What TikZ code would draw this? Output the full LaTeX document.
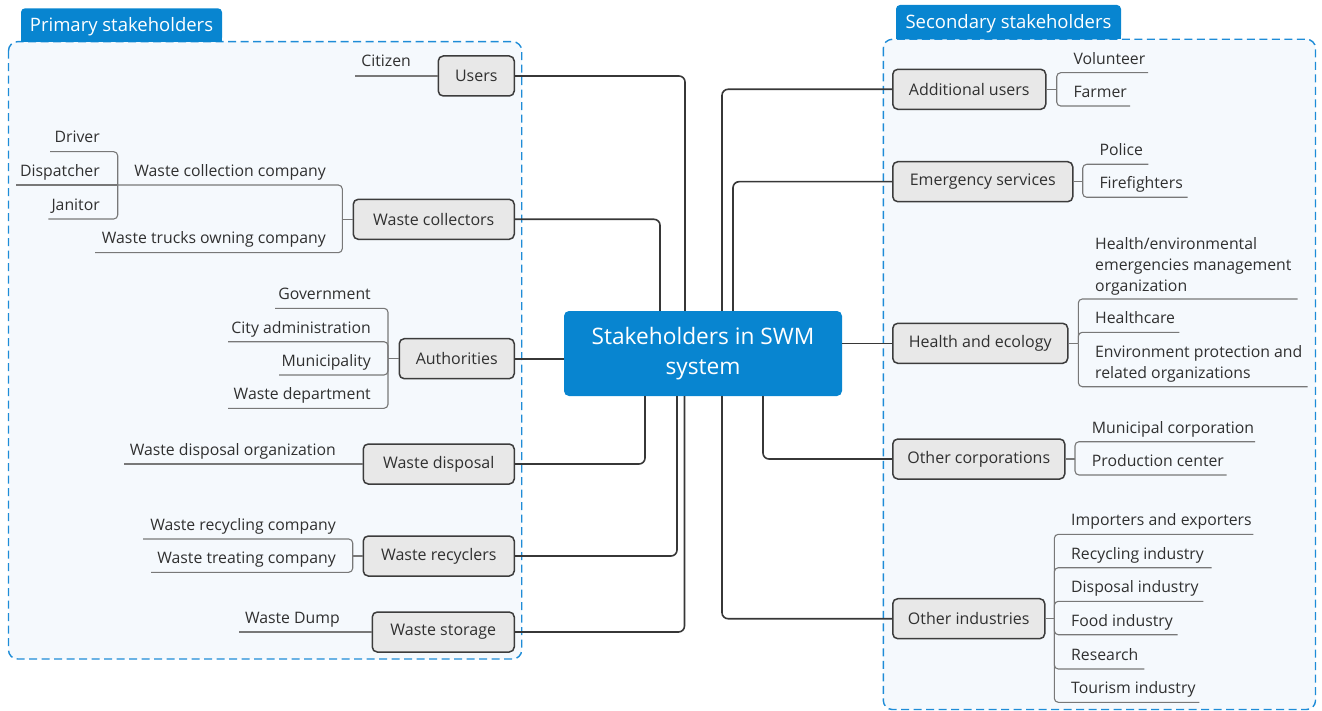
\documentclass[tikz,border=0pt]{standalone}
\usepackage{fontspec}
\setmainfont{Open Sans}
\definecolor{hubblue}{RGB}{8,133,208}
\definecolor{dashc}{RGB}{30,140,215}
\definecolor{panel}{RGB}{245,249,253}
\definecolor{boxfill}{RGB}{232,232,232}
\definecolor{boxline}{RGB}{60,60,60}
\definecolor{connc}{RGB}{55,55,55}
\definecolor{subc}{RGB}{120,120,120}
\definecolor{txt}{RGB}{48,48,48}
\newcommand\leaffont{\fontsize{15.8}{20.7}\selectfont}
\newcommand\catfont{\fontsize{16}{19}\selectfont}
\newcommand\hubfont{\fontsize{22.7}{30}\selectfont}
\newcommand\tabfont{\fontsize{18.5}{22}\selectfont}
\tikzset{
  cat/.style={draw=boxline, fill=boxfill, line width=1.5pt, rounded corners=5pt,
    minimum height=40pt, inner sep=0pt, font=\catfont, text=txt},
  leaf/.style={inner sep=0pt, font=\leaffont, text=txt},
  conn/.style={draw=connc, line width=1.6pt, rounded corners=6pt},
  sub/.style={draw=subc, line width=1.1pt, rounded corners=4pt},
  dashbox/.style={draw=dashc, dash pattern=on 8pt off 4.5pt, line width=1.4pt,
    fill=panel, rounded corners=9pt},
  tabtext/.style={inner sep=0pt, font=\tabfont, text=white},
  hub/.style={fill=hubblue, rounded corners=5pt, minimum width=278pt,
    minimum height=85pt, align=center, text=white, font=\hubfont, inner sep=0pt}
}
\begin{document}
\begin{tikzpicture}[x=1pt,y=-1pt]
\useasboundingbox (0,0) rectangle (1322,711);
% panels
\path[dashbox] (8.5,41.7) rectangle (521.7,659);
\path[dashbox] (883.3,39.3) rectangle (1315.5,709.5);
% tabs
\fill[hubblue, rounded corners=4pt] (21,8.3) rectangle (222,41.7);
\fill[hubblue] (21,30) rectangle (222,41.7);
\node[tabtext, anchor=base] (ptab) at (121.5,31.7) {Primary stakeholders};
\fill[hubblue, rounded corners=4pt] (896,5) rectangle (1121,39.3);
\fill[hubblue] (896,28) rectangle (1121,39.3);
\node[tabtext, anchor=base] (stab) at (1008.5,28.3) {Secondary stakeholders};
% hub
\node[hub] (hub) at (703,353.5) {Stakeholders in SWM\\system};
% left categories
\node[cat, anchor=east, minimum width=76pt] (users) at (515,76) {Users};
\node[cat, anchor=east, minimum width=161pt] (collectors) at (515,219.3) {Waste collectors};
\node[cat, anchor=east, minimum width=115pt] (authorities) at (515,358.7) {Authorities};
\node[cat, anchor=east, minimum width=151pt] (disposal) at (515,464) {Waste disposal};
\node[cat, anchor=east, minimum width=151pt] (recyclers) at (515,556) {Waste recyclers};
\node[cat, anchor=east, minimum width=142pt] (storage) at (515,632) {Waste storage};
% right categories
\node[cat, anchor=west, minimum width=153pt] (addusers) at (892,89.3) {Additional users};
\node[cat, anchor=west, minimum width=180pt] (emergency) at (892,181.7) {Emergency services};
\node[cat, anchor=west, minimum width=175pt] (health) at (892,343.3) {Health and ecology};
\node[cat, anchor=west, minimum width=172pt] (corporations) at (892,459) {Other corporations};
\node[cat, anchor=west, minimum width=152pt] (industries) at (892,618.7) {Other industries};
% hub connectors
\draw[conn] (users.east) -| ([xshift=-18pt]hub.north);
\draw[conn] (collectors.east) -| ([xshift=-43pt]hub.north);
\draw[conn] (authorities.east) -- (authorities.east -| hub.west);
\draw[conn] (disposal.east) -| ([xshift=-58pt]hub.south);
\draw[conn] (recyclers.east) -| ([xshift=-26pt]hub.south);
\draw[conn] (storage.east) -| ([xshift=-18.5pt]hub.south);
\draw[conn] (addusers.west) -| ([xshift=19pt]hub.north);
\draw[conn] (emergency.west) -| ([xshift=30pt]hub.north);
\draw[conn] (health.west) -- (health.west -| hub.east);
\draw[conn] (corporations.west) -| ([xshift=60pt]hub.south);
\draw[conn] (industries.west) -| ([xshift=19pt]hub.south);
% ---- left leaves ----
\coordinate (citizenU) at (355,76);
\draw[sub] (users.west) -- (citizenU);
\node[leaf, anchor=base east] (citizen) at (411,67) {Citizen};
% collectors
\coordinate (colB) at (342.3,219.3);
\coordinate (wccU) at (117.7,185);
\coordinate (wtocU) at (95,252.7);
\draw[sub] (collectors.west) -- (colB);
\draw[sub] (colB) |- (wccU);
\draw[sub] (colB) |- (wtocU);
\coordinate (driverU) at (50,151.7);
\coordinate (dispU) at (16,185);
\coordinate (janU) at (48.3,219);
\draw[sub] (wccU) |- (driverU);
\draw[sub] (wccU) -- (dispU);
\draw[sub] (wccU) |- (janU);
\node[leaf, anchor=base east] (wcc) at (326,176.5) {Waste collection company};
\node[leaf, anchor=base east] (wtoc) at (326,244) {Waste trucks owning company};
\node[leaf, anchor=base east] (driver) at (100,142.7) {Driver};
\node[leaf, anchor=base east] (dispatcher) at (100,176.5) {Dispatcher};
\node[leaf, anchor=base east] (janitor) at (100,210.3) {Janitor};
% authorities
\coordinate (autB) at (388,358.7);
\draw[sub] (authorities.west) -- (autB);
\coordinate (govU) at (275,308.3);
\coordinate (cityU) at (228,341.7);
\coordinate (muniU) at (279,375);
\coordinate (wdepU) at (228,408.3);
\draw[sub] (autB) |- (govU);
\draw[sub] (autB) |- (cityU);
\draw[sub] (autB) |- (muniU);
\draw[sub] (autB) |- (wdepU);
\node[leaf, anchor=base east] (gov) at (371,299.6) {Government};
\node[leaf, anchor=base east] (city) at (371,333) {City administration};
\node[leaf, anchor=base east] (muni) at (371,366.3) {Municipality};
\node[leaf, anchor=base east] (wdep) at (371,399.6) {Waste department};
% disposal
\coordinate (wdoU) at (124,464);
\draw[sub] (disposal.west) -- (wdoU);
\node[leaf, anchor=base east] (wdo) at (336,455) {Waste disposal organization};
% recyclers
\coordinate (recB) at (352.7,556);
\coordinate (wrcU) at (143,539);
\coordinate (wtcU) at (151,572.3);
\draw[sub] (recyclers.west) -- (recB);
\draw[sub] (recB) |- (wrcU);
\draw[sub] (recB) |- (wtcU);
\node[leaf, anchor=base east] (wrc) at (336,530.3) {Waste recycling company};
\node[leaf, anchor=base east] (wtc) at (336,563.6) {Waste treating company};
% storage
\coordinate (dumpU) at (239,632);
\draw[sub] (storage.west) -- (dumpU);
\node[leaf, anchor=base east] (dump) at (340,623.3) {Waste Dump};
% ---- right leaves ----
\coordinate (addB) at (1056.7,89.3);
\coordinate (volU) at (1148,72.7);
\coordinate (farU) at (1130,106);
\draw[sub] (addusers.east) -- (addB);
\draw[sub] (addB) |- (volU);
\draw[sub] (addB) |- (farU);
\node[leaf, anchor=base west] (volunteer) at (1073.3,64.3) {Volunteer};
\node[leaf, anchor=base west] (farmer) at (1073.3,97.3) {Farmer};
% emergency
\coordinate (emeB) at (1082.7,181.7);
\coordinate (polU) at (1148.3,164.3);
\coordinate (fireU) at (1187.7,197.3);
\draw[sub] (emergency.east) -- (emeB);
\draw[sub] (emeB) |- (polU);
\draw[sub] (emeB) |- (fireU);
\node[leaf, anchor=base west] (police) at (1099.3,156) {Police};
\node[leaf, anchor=base west] (fire) at (1099.3,189) {Firefighters};
% health
\coordinate (heaB) at (1078.3,343.3);
\coordinate (heU) at (1297.7,299);
\coordinate (hcU) at (1179.3,332.3);
\coordinate (envU) at (1307.7,386.7);
\draw[sub] (health.east) -- (heaB);
\draw[sub] (heaB) |- (heU);
\draw[sub] (heaB) |- (hcU);
\draw[sub] (heaB) |- (envU);
\node[leaf, anchor=south west, align=left] (hem) at (1095,295) {Health/environmental\\emergencies management\\organization};
\node[leaf, anchor=base west] (hcare) at (1095,323.5) {Healthcare};
\node[leaf, anchor=south west, align=left] (envp) at (1095,382) {Environment protection and\\related organizations};
% corporations
\coordinate (corB) at (1075,459);
\coordinate (mcU) at (1255,441.7);
\coordinate (pcU) at (1226.7,475);
\draw[sub] (corporations.east) -- (corB);
\draw[sub] (corB) |- (mcU);
\draw[sub] (corB) |- (pcU);
\node[leaf, anchor=base west] (mcorp) at (1091.7,433.3) {Municipal corporation};
\node[leaf, anchor=base west] (pcent) at (1091.7,466.3) {Production center};
% industries
\coordinate (indB) at (1054.3,618.7);
\coordinate (ieU) at (1253.3,534.3);
\coordinate (riU) at (1211.7,567.7);
\coordinate (diU) at (1203.3,601.3);
\coordinate (fiU) at (1177.7,634.7);
\coordinate (reU) at (1144.3,669);
\coordinate (tiU) at (1199.3,702.3);
\draw[sub] (industries.east) -- (indB);
\draw[sub] (indB) |- (ieU);
\draw[sub] (indB) |- (riU);
\draw[sub] (indB) |- (diU);
\draw[sub] (indB) |- (fiU);
\draw[sub] (indB) |- (reU);
\draw[sub] (indB) |- (tiU);
\node[leaf, anchor=base west] (impexp) at (1071,525.5) {Importers and exporters};
\node[leaf, anchor=base west] (recind) at (1071,559) {Recycling industry};
\node[leaf, anchor=base west] (disind) at (1071,592.6) {Disposal industry};
\node[leaf, anchor=base west] (foodind) at (1071,626) {Food industry};
\node[leaf, anchor=base west] (research) at (1071,660.3) {Research};
\node[leaf, anchor=base west] (tourind) at (1071,693.6) {Tourism industry};
\end{tikzpicture}
\end{document}
